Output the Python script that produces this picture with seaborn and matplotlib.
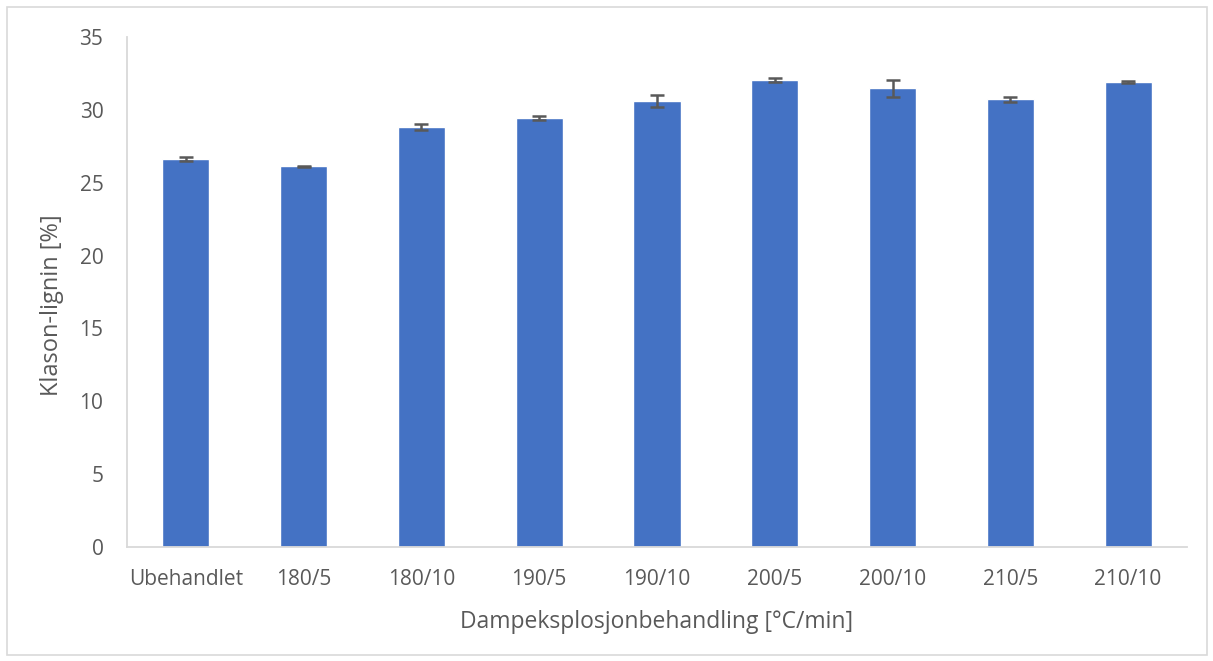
import matplotlib
matplotlib.use("Agg")
import matplotlib.pyplot as plt
import seaborn as sns
import pandas as pd
from matplotlib.patches import Rectangle

categories = ["Ubehandlet", "180/5", "180/10", "190/5", "190/10", "200/5", "200/10", "210/5", "210/10"]
values = [26.63, 26.12, 28.85, 29.46, 30.61, 32.06, 31.48, 30.72, 31.91]
errors = [0.15, 0.05, 0.2, 0.14, 0.38, 0.14, 0.6, 0.18, 0.08]

df = pd.DataFrame({"cat": categories, "val": values})

sns.set_theme(style="white")
plt.rcParams["font.family"] = ["Open Sans", "DejaVu Sans"]

fig = plt.figure(figsize=(12.13, 6.61), dpi=100)
ax = fig.add_axes([127/1213, (661-547)/661, (1187-127)/1213, (547-37)/661])

sns.barplot(data=df, x="cat", y="val", color="#4472C4", width=0.4, saturation=1, ax=ax, errorbar=None)
ax.errorbar(range(len(categories)), values, yerr=errors, fmt="none", ecolor="#595959",
            elinewidth=1.8, capsize=5, capthick=1.8)

ax.set_ylim(0, 35)
ax.set_xlim(-0.5, len(categories) - 0.5)
ax.set_yticks(range(0, 36, 5))
ax.tick_params(axis="both", colors="#595959", labelsize=15, length=0)
ax.tick_params(axis="x", pad=16)
ax.tick_params(axis="y", pad=17)
for s in ["top", "right"]:
    ax.spines[s].set_visible(False)
for s in ["left", "bottom"]:
    ax.spines[s].set_color("#D9D9D9")
    ax.spines[s].set_linewidth(1.3)
ax.set_xlabel("Dampeksplosjonbehandling [°C/min]", color="#595959", fontsize=16.5, labelpad=14)
ax.set_ylabel("Klason-lignin [%]", color="#595959", fontsize=17)
ax.yaxis.set_label_coords(-0.0708, 0.4745)
ax.yaxis.label.set_verticalalignment("center")

fig.patches.append(Rectangle((7/1213, 6/661), 1200/1213, 648/661, transform=fig.transFigure,
                             fill=False, edgecolor="#D9D9D9", linewidth=1.2))

fig.savefig("out.png", dpi=100)
